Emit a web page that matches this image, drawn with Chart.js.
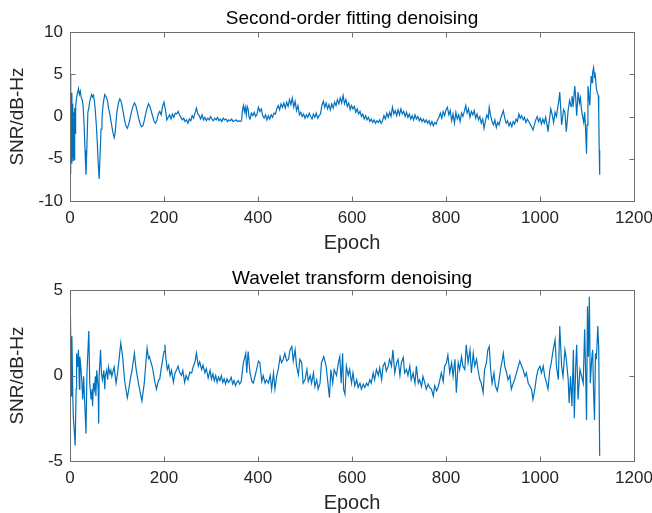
<!DOCTYPE html>
<html><head><meta charset="utf-8">
<script src="https://cdn.jsdelivr.net/npm/chart.js@4/dist/chart.umd.min.js"></script>
<style>
html,body{margin:0;padding:0;background:#fff;overflow:hidden;}
canvas{position:absolute;left:0;}
#c1{top:0;}
#c2{top:258px;}
</style></head><body>
<canvas id="c1" width="652" height="258"></canvas>
<canvas id="c2" width="652" height="255"></canvas>
<script>
// ---- data (epoch, SNR dB-Hz) ----
const xTicks = [0, 200, 400, 600, 800, 1000, 1200];
const fitYTicks = [-10, -5, 0, 5, 10];
const waveYTicks = [-5, 0, 5];
const fitTitle = 'Second-order fitting denoising';
const waveTitle = 'Wavelet transform denoising';
const xLabel = 'Epoch';
const yLabel = 'SNR/dB-Hz';

const fitData = [[0,5.0],[1,-6.8],[2,2.5],[3,-5.5],[4,2.8],[5,-4.8],[6,1.5],[7,-5.2],[8,0.5],[9,-5.0],[10,1.0],[11,-2.0],[12,1.2],[14,2.2],[16,2.8],[18,3.3],[20,2.6],[22,3.0],[24,2.2],[26,2.0],[28,1.2],[30,-1.0],[32,-4.0],[34,-6.9],[36,-3.5],[38,0.5],[40,1.0],[42,1.8],[44,2.2],[46,2.6],[48,2.3],[50,2.5],[52,1.8],[54,0.6],[56,-1.0],[58,-3.0],[60,-5.5],[62,-7.4],[64,-4.5],[66,-1.5],[68,-0.3],[70,1.2],[72,2.0],[74,2.6],[76,2.4],[78,2.2],[80,1.8],[82,1.0],[85,0.2],[88,-0.8],[91,-1.8],[94,-2.5],[96,-2.0],[98,-0.6],[100,0.6],[103,1.6],[106,2.1],[108,1.9],[110,1.5],[113,0.6],[116,-0.4],[119,-1.1],[122,-1.4],[125,-0.9],[128,-0.2],[131,0.6],[134,1.2],[137,1.6],[140,1.3],[143,0.6],[146,-0.2],[149,-0.8],[152,-1.2],[155,-1.1],[158,-0.5],[161,0.3],[164,1.0],[167,1.5],[170,1.2],[173,0.6],[176,0.0],[179,-0.6],[182,-0.8],[185,-0.4],[188,0.3],[191,0.6],[194,0.2],[197,1.2],[200,1.7],[203,0.8],[206,-0.4],[209,-0.1],[212,0.2],[215,-0.3],[218,0.3],[221,-0.1],[224,0.4],[227,0.3],[230,0.6],[233,0.2],[236,-0.1],[239,-0.4],[242,-0.2],[245,-0.6],[248,-0.4],[251,-0.8],[254,-0.3],[257,-0.5],[260,0.1],[263,-0.2],[266,0.4],[269,1.0],[272,0.3],[275,0.1],[278,-0.3],[281,0.2],[284,-0.4],[287,-0.1],[290,-0.5],[293,-0.2],[296,-0.4],[299,0.0],[302,-0.3],[305,-0.5],[308,-0.2],[311,-0.4],[314,-0.1],[317,-0.5],[320,-0.3],[323,-0.6],[326,-0.2],[329,-0.4],[332,-0.3],[335,-0.6],[338,-0.4],[341,-0.5],[344,-0.3],[347,-0.6],[350,-0.5],[353,-0.4],[356,-0.6],[359,-0.5],[362,-0.6],[365,-0.5],[367,0.8],[369,1.3],[371,0.6],[373,1.1],[375,0.2],[377,1.2],[379,0.9],[381,-0.1],[383,-0.3],[386,0.4],[389,0.1],[392,0.5],[395,0.0],[398,0.3],[401,1.1],[404,0.6],[407,0.9],[410,0.1],[413,-0.2],[416,0.2],[419,-0.4],[422,0.1],[425,-0.3],[428,0.2],[431,-0.1],[434,0.4],[437,0.3],[440,0.9],[443,1.3],[446,0.8],[449,1.5],[452,1.1],[455,1.6],[458,1.0],[461,1.7],[464,1.2],[467,2.0],[470,1.4],[473,2.2],[476,1.1],[479,1.8],[482,0.7],[485,1.3],[488,0.2],[491,0.5],[494,0.0],[497,0.3],[500,-0.2],[503,0.2],[506,-0.1],[509,0.4],[512,0.0],[515,-0.3],[518,0.3],[521,-0.1],[524,0.4],[527,-0.2],[530,0.1],[533,0.3],[536,1.3],[539,1.8],[542,1.1],[545,1.6],[548,0.9],[551,1.4],[554,0.8],[557,1.5],[560,1.0],[563,1.7],[566,1.3],[569,2.0],[572,1.5],[575,2.2],[578,1.6],[581,2.5],[584,1.5],[587,2.0],[590,1.2],[593,1.6],[596,0.8],[599,1.3],[602,0.9],[605,1.2],[608,0.5],[611,0.9],[614,0.3],[617,0.6],[620,0.0],[623,0.3],[626,-0.3],[629,0.1],[632,-0.4],[635,-0.1],[638,-0.6],[641,-0.3],[644,-0.7],[647,-0.4],[650,-0.8],[653,-0.5],[656,-0.7],[659,-0.4],[662,-0.8],[665,-0.5],[668,0.1],[671,-0.3],[674,0.4],[677,-0.1],[680,0.5],[683,0.0],[686,1.1],[689,0.3],[692,0.7],[695,0.1],[698,0.8],[701,0.2],[704,0.9],[707,0.3],[710,0.6],[713,0.0],[716,0.5],[719,-0.1],[722,0.3],[725,-0.3],[728,0.1],[731,-0.4],[734,0.2],[737,-0.3],[740,0.0],[743,-0.5],[746,-0.2],[749,-0.6],[752,-0.3],[755,-0.7],[758,-0.4],[761,-0.8],[764,-0.5],[767,-1.0],[770,-0.6],[773,-1.1],[776,-0.7],[779,-0.9],[782,-0.4],[785,-0.1],[788,0.4],[791,-0.2],[794,0.6],[797,0.1],[800,0.8],[803,1.1],[806,0.2],[809,0.7],[812,-0.5],[815,0.3],[818,-0.8],[821,0.5],[824,-0.3],[827,0.2],[830,-0.6],[833,0.4],[836,0.0],[839,0.6],[842,1.3],[845,0.4],[848,0.9],[851,-0.1],[854,0.6],[857,0.2],[860,0.7],[863,-0.2],[866,0.3],[869,-0.4],[872,0.0],[875,-0.8],[878,-0.3],[881,-1.4],[884,-0.5],[887,0.2],[890,-0.2],[892,1.1],[895,0.1],[898,-0.6],[901,-1.0],[904,-0.4],[907,-1.3],[910,-0.7],[913,-1.0],[916,-0.3],[919,0.2],[922,0.7],[925,-0.2],[928,-0.8],[931,-0.5],[934,-1.1],[937,-0.7],[940,-1.2],[943,-0.6],[946,-0.9],[949,-0.3],[952,-0.6],[955,0.3],[958,-0.2],[961,0.1],[964,-0.4],[967,-0.1],[970,-0.7],[973,-0.3],[976,-0.6],[979,-0.9],[982,-1.2],[985,-1.6],[988,-1.0],[991,-0.4],[994,0.0],[997,-0.6],[1000,-0.2],[1003,-0.9],[1006,-0.3],[1009,-0.8],[1012,-0.1],[1015,-1.0],[1017,-1.8],[1020,-0.4],[1023,0.9],[1026,0.2],[1029,-0.7],[1032,0.5],[1035,0.0],[1038,1.2],[1040,1.8],[1042,2.9],[1044,1.0],[1046,-1.0],[1048,-0.2],[1050,0.8],[1053,0.5],[1056,-1.8],[1058,-0.5],[1060,0.8],[1063,1.9],[1066,1.2],[1068,2.4],[1071,1.5],[1074,3.6],[1076,2.2],[1078,0.1],[1080,1.8],[1081,2.9],[1084,1.6],[1086,2.2],[1088,0.9],[1090,0.2],[1093,-0.7],[1095,0.5],[1097,-1.5],[1099,-4.4],[1100,-1.0],[1102,3.6],[1104,2.4],[1106,1.3],[1107,3.0],[1109,4.8],[1111,4.0],[1112,5.2],[1114,5.8],[1116,4.6],[1117,5.2],[1119,4.0],[1120,3.3],[1122,2.8],[1124,2.5],[1125,0.5],[1126,-4.0],[1127,-6.9]];

const waveData = [[1,3.4],[3,-1.2],[4,2.3],[6,-1.2],[7,-2.4],[9,-3.2],[11,-4.1],[13,-0.8],[14,1.3],[16,0.5],[18,1.5],[20,-0.8],[21,1.1],[23,0.5],[25,-0.25],[27,-1.4],[29,-0.05],[31,-1.4],[34,-3.4],[36,0.1],[40,2.6],[42,-0.45],[45,-1.4],[47,-0.8],[48,-1.8],[50,-0.45],[52,-0.8],[54,-0.05],[55,-1.2],[57,0.3],[60,-0.8],[61,-2.8],[62,-0.05],[65,1.5],[67,0.1],[69,-0.25],[72,0.3],[74,-0.8],[75,-0.05],[78,0.3],[80,-0.25],[82,0.5],[85,0.1],[87,0.3],[89,-0.05],[92,0.3],[94,0.5],[96,0.0],[98,-0.45],[101,0.1],[105,1.1],[108,1.9],[112,1.1],[116,-0.25],[119,-0.8],[122,-1.3],[126,-0.65],[129,-0.1],[132,0.3],[137,1.3],[140,0.5],[144,-0.2],[148,-0.8],[153,-1.5],[158,-0.45],[161,0.6],[164,1.6],[167,1.0],[169,1.1],[172,0.8],[176,0.4],[180,-0.3],[184,-0.8],[188,-0.3],[191,-0.2],[194,0.4],[197,0.9],[200,1.4],[202,1.8],[204,1.0],[207,0.35],[210,0.6],[213,0.0],[216,0.3],[220,-0.4],[223,0.1],[227,0.35],[230,0.55],[233,0.2],[237,0.0],[240,0.3],[244,-0.4],[247,0.0],[251,-0.25],[255,0.2],[259,0.15],[262,0.5],[266,0.8],[269,1.3],[273,0.55],[276,0.8],[280,0.35],[283,0.6],[287,0.15],[290,0.4],[294,-0.15],[298,0.3],[301,-0.2],[304,0.1],[307,-0.3],[310,0.0],[313,-0.4],[316,-0.1],[319,-0.3],[322,0.0],[325,-0.4],[328,-0.2],[331,-0.5],[334,-0.2],[337,-0.4],[340,-0.3],[343,-0.1],[346,-0.5],[349,-0.3],[352,-0.6],[355,-0.4],[358,-0.3],[361,-0.5],[364,-0.4],[369,0.75],[374,1.3],[376,0.15],[379,1.4],[383,0.15],[387,-0.35],[390,-0.45],[394,0.0],[397,0.35],[401,0.85],[404,0.75],[408,-0.35],[411,0.0],[415,-0.45],[418,-0.25],[422,-0.45],[426,0.0],[429,-0.8],[433,0.15],[436,-0.8],[440,0.0],[443,0.35],[447,1.1],[450,0.75],[454,0.95],[457,1.3],[461,0.85],[465,0.95],[468,1.5],[472,1.7],[475,0.85],[479,1.5],[482,0.55],[486,0.05],[489,0.95],[493,0.75],[496,-0.45],[500,-0.25],[504,0.35],[507,-0.35],[511,0.0],[514,-0.45],[518,0.15],[521,-0.65],[525,-0.25],[528,-0.8],[532,-0.45],[535,0.75],[540,1.1],[545,0.55],[548,-0.25],[552,-1.3],[555,0.35],[559,-0.45],[562,0.35],[567,0.0],[571,0.75],[574,1.1],[577,-0.45],[580,1.3],[582,-0.8],[585,-1.1],[588,0.55],[592,0.0],[595,0.35],[599,-0.45],[602,0.15],[606,-0.6],[610,-0.25],[613,-0.7],[617,-0.45],[620,-0.8],[624,-0.5],[627,-0.7],[631,-0.45],[634,-0.6],[638,-0.25],[641,-0.45],[645,0.15],[648,-0.25],[652,0.35],[656,0.0],[659,0.45],[663,-0.25],[666,0.55],[670,0.75],[673,0.25],[677,0.55],[680,0.95],[684,0.55],[687,1.5],[691,0.15],[695,0.75],[698,0.95],[702,0.0],[705,0.75],[709,1.05],[712,0.15],[716,0.35],[719,0.0],[723,0.55],[726,-0.25],[730,0.15],[734,-0.45],[737,0.55],[741,-0.45],[744,-0.25],[748,-0.65],[751,-0.05],[755,-0.45],[758,-0.8],[762,-0.5],[765,-0.7],[769,-0.8],[773,-1.2],[776,-0.6],[780,-0.9],[783,-0.7],[787,-0.25],[790,0.15],[794,-0.35],[797,0.55],[801,0.75],[804,1.2],[808,0.15],[812,0.75],[815,-0.05],[819,0.95],[822,-1.0],[826,0.75],[829,0.35],[833,1.1],[836,0.55],[840,0.35],[843,1.8],[847,0.75],[851,1.5],[854,0.15],[858,1.3],[861,0.55],[865,0.95],[868,0.35],[872,-0.25],[875,-0.45],[879,-1.0],[882,0.35],[886,0.75],[889,1.5],[892,1.7],[895,0.35],[898,-0.45],[902,0.15],[905,-0.6],[909,-0.9],[912,-0.45],[916,0.35],[920,0.95],[922,1.3],[925,0.55],[929,0.15],[932,-0.25],[936,0.0],[939,-0.8],[943,-0.45],[946,-0.25],[950,0.15],[954,0.55],[957,0.85],[961,0.55],[964,0.35],[968,-0.05],[971,0.15],[975,-0.45],[978,-0.6],[982,-0.8],[985,-1.4],[989,-0.8],[993,0.0],[996,0.35],[1000,0.55],[1003,0.15],[1007,0.55],[1010,-0.05],[1014,-0.45],[1017,-0.8],[1021,0.35],[1024,0.75],[1028,1.5],[1032,2.1],[1035,0.55],[1039,-0.25],[1042,2.9],[1046,0.55],[1049,-0.05],[1053,1.5],[1056,0.95],[1060,-0.25],[1062,-1.6],[1065,-0.05],[1068,-1.8],[1071,1.5],[1073,-2.5],[1076,0.55],[1078,1.8],[1081,-1.4],[1085,0.35],[1088,0.0],[1092,-0.45],[1095,2.7],[1097,0.35],[1099,-2.6],[1101,4.05],[1103,1.1],[1105,4.6],[1107,-0.45],[1110,0.95],[1112,1.5],[1114,-1.0],[1116,-2.6],[1118,1.3],[1120,0.95],[1123,2.9],[1125,1.5],[1127,-4.7]];

// ---- rendering ----
const FONT = "'Liberation Sans', Arial, Helvetica, sans-serif";
const LINE_COLOR = '#0072BD';
const TEXT_COLOR = '#262626';
const AXIS_COLOR = '#6e6e6e';

const boxPlugin = {
  id: 'matlabBox',
  afterDatasetsDraw(chart) {
    const {ctx, chartArea: a, scales: {x, y}} = chart;
    ctx.save();
    ctx.strokeStyle = AXIS_COLOR;
    ctx.lineWidth = 1;
    const L = Math.round(a.left) + 0.5, R = Math.round(a.right) + 0.5;
    const T = Math.round(a.top) + 0.5, B = Math.round(a.bottom) + 0.5;
    ctx.beginPath();
    ctx.rect(L, T, R - L, B - T);
    const tl = 5;
    x.ticks.forEach(t => {
      const px = Math.round(x.getPixelForValue(t.value)) + 0.5;
      ctx.moveTo(px, B); ctx.lineTo(px, B - tl);
      ctx.moveTo(px, T); ctx.lineTo(px, T + tl);
    });
    y.ticks.forEach(t => {
      const py = Math.round(y.getPixelForValue(t.value)) + 0.5;
      ctx.moveTo(L, py); ctx.lineTo(L + tl, py);
      ctx.moveTo(R, py); ctx.lineTo(R - tl, py);
    });
    ctx.stroke();
    ctx.restore();
  }
};

function makeChart(id, title, data, yMin, yMax, yTicks, xAxisHeight, titlePad, xTitleBottom) {
  const ctx = document.getElementById(id).getContext('2d');
  return new Chart(ctx, {
    type: 'line',
    data: {
      datasets: [{
        data: data.map(p => ({x: p[0], y: p[1]})),
        borderColor: LINE_COLOR,
        borderWidth: 1.2,
        pointRadius: 0,
        tension: 0,
        fill: false
      }]
    },
    options: {
      responsive: false,
      animation: false,
      events: [],
      layout: {padding: {left: 0, right: 18, top: 0, bottom: 0}},
      plugins: {
        legend: {display: false},
        tooltip: {enabled: false},
        title: {
          display: true, text: title, fullSize: false,
          color: '#000', font: {family: FONT, size: 19, weight: 'normal', lineHeight: 1.2},
          padding: titlePad
        }
      },
      scales: {
        x: {
          type: 'linear', min: 0, max: 1200,
          grid: {display: false, drawTicks: false}, border: {display: false},
          afterBuildTicks: s => { s.ticks = xTicks.map(v => ({value: v})); },
          afterFit: s => { s.height = xAxisHeight; s.paddingLeft = 0; s.paddingRight = 0; },
          ticks: {color: TEXT_COLOR, font: {family: FONT, size: 17}, padding: 7, maxRotation: 0, autoSkip: false, callback: v => String(v)},
          title: {display: true, text: xLabel, color: TEXT_COLOR, font: {family: FONT, size: 20, lineHeight: 1.0}, padding: {top: 0, bottom: xTitleBottom}}
        },
        y: {
          type: 'linear', min: yMin, max: yMax,
          grid: {display: false, drawTicks: false}, border: {display: false},
          afterBuildTicks: s => { s.ticks = yTicks.map(v => ({value: v})); },
          afterFit: s => { s.width = 70; s.paddingTop = 0; s.paddingBottom = 0; },
          ticks: {color: TEXT_COLOR, font: {family: FONT, size: 17}, padding: 7, autoSkip: false, callback: v => String(v)},
          title: {display: true, text: yLabel, color: TEXT_COLOR, font: {family: FONT, size: 19, lineHeight: 1.2}, padding: {top: 6, bottom: 0}}
        }
      }
    },
    plugins: [boxPlugin]
  });
}

makeChart('c1', fitTitle, fitData, -10, 10, fitYTicks, 57, {top: 7, bottom: 2.2}, 5);
makeChart('c2', waveTitle, waveData, -5, 5, waveYTicks, 52, {top: 9, bottom: 0.2}, 0);
</script>
</body></html>
